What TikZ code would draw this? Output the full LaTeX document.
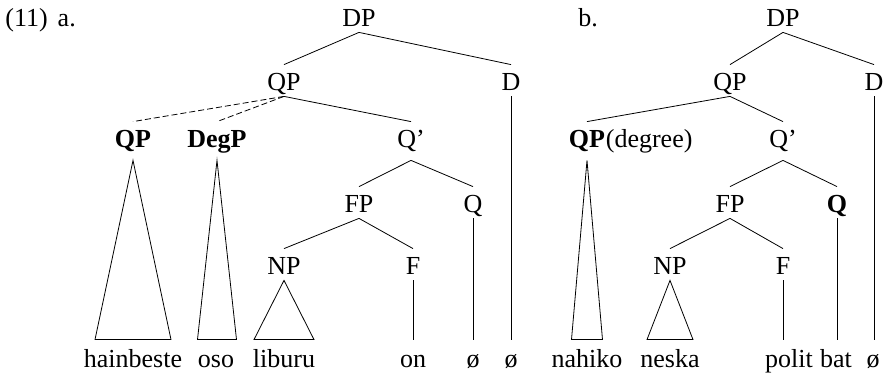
\documentclass[tikz,border=0pt]{standalone}
\usepackage{fontspec}
\setmainfont{Liberation Serif}
\usetikzlibrary{positioning,calc}

\begin{document}
\begin{tikzpicture}[x=1pt, y=-1pt, line width=0.8pt,
        every node/.style={font=\fontsize{26}{30}\selectfont},
        cat/.style={inner sep=0pt, anchor=base, text height=26pt, text depth=5pt},
        deepcat/.style={cat, text depth=12pt},
        word/.style={inner sep=0pt, anchor=base, text height=27pt, text depth=0pt},
        optional/.style={dash pattern=on 6pt off 3pt}]
        \useasboundingbox (0,0) rectangle (884,379);

        % Example labels
        \node (ex) [anchor=base west, inner sep=0pt] at (5,27) {(11)\hspace{10pt}a.};
        \node (exb) [anchor=base west, inner sep=0pt] at (578,27) {b.};

        % Tree a: categories
        \node (DPa) [cat] at (359,27) {DP};
        \node (QPa) [cat] at (284,91) {QP};
        \node (Da) [cat] at (511,91) {D};
        \node (QPsub) [deepcat] at (133,148) {\textbf{QP}};
        \node (DegP) [deepcat] at (217,148) {\textbf{DegP}};
        \node (Qbara) [deepcat] at (411,148) {Q'};
        \node (FPa) [cat] at (359,213) {FP};
        \node (Qa) [cat] at (473,213) {Q};
        \node (NPa) [cat] at (284,275) {NP};
        \node (Fa) [cat] at (413,275) {F};

        % Tree a: words
        \node (hainbeste) [word] at (133,367) {hainbeste};
        \node (oso) [word] at (216,367) {oso};
        \node (liburu) [word] at (284,367) {liburu};
        \node (on) [word] at (413,367) {on};
        \node (nullQa) [word] at (473,367) {ø};
        \node (nullDa) [word] at (511,367) {ø};

        % Tree b: categories
        \node (DPb) [cat] at (783,27) {DP};
        \node (QPb) [cat] at (730,91) {QP};
        \node (Db) [cat] at (874,91) {D};
        \node (QPdeg) [deepcat] at (587,148) {\textbf{QP}};
        \node (degree) [deepcat, anchor=base west] at (QPdeg.base east) {(degree)};
        \node (Qbarb) [deepcat] at (783,148) {Q'};
        \node (FPb) [cat] at (730,213) {FP};
        \node (Qb) [cat] at (837,213) {\textbf{Q}};
        \node (NPb) [cat] at (670,275) {NP};
        \node (Fb) [cat] at (783,275) {F};

        % Tree b: words
        \node (nahiko) [word] at (587,367) {nahiko};
        \node (neska) [word] at (670,367) {neska};
        \node (polit) [word] at (789,367) {polit};
        \node (bat) [word] at (836,367) {bat};
        \node (nullDb) [word] at (873,367) {ø};

        % Tree a: branches
        \draw (DPa.south) -- (QPa.north);
        \draw (DPa.south) -- (Da.north);
        \draw[optional] (QPa.south) -- (QPsub.north);
        \draw[optional] (QPa.south) -- (DegP.north);
        \draw (QPa.south) -- (Qbara.north);
        \draw (Qbara.south) -- (FPa.north);
        \draw (Qbara.south) -- (Qa.north);
        \draw (FPa.south) -- (NPa.north);
        \draw (FPa.south) -- (Fa.north);
        \draw (Da.south) -- (Da.south |- nullDa.north);
        \draw (Qa.south) -- (Qa.south |- nullQa.north);
        \draw (Fa.south) -- (Fa.south |- on.north);
        % Tree a: triangles
        \draw (QPsub.south) -- ($(QPsub.south |- hainbeste.north)+(-38,0)$)
            -- ($(QPsub.south |- hainbeste.north)+(38,0)$) -- cycle;
        \draw (DegP.south) -- ($(DegP.south |- oso.north)+(-19.5,0)$)
            -- ($(DegP.south |- oso.north)+(19.5,0)$) -- cycle;
        \draw (NPa.south) -- ($(NPa.south |- liburu.north)+(-30,0)$)
            -- ($(NPa.south |- liburu.north)+(30,0)$) -- cycle;

        % Tree b: branches
        \draw (DPb.south) -- (QPb.north);
        \draw (DPb.south) -- (Db.north);
        \draw (QPb.south) -- (QPdeg.north);
        \draw (QPb.south) -- (Qbarb.north);
        \draw (Qbarb.south) -- (FPb.north);
        \draw (Qbarb.south) -- (Qb.north);
        \draw (FPb.south) -- (NPb.north);
        \draw (FPb.south) -- (Fb.north);
        \draw (Db.south) -- (Db.south |- nullDb.north);
        \draw (Qb.south) -- (Qb.south |- bat.north);
        \draw (Fb.south) -- (Fb.south |- polit.north);
        % Tree b: triangles
        \draw (QPdeg.south) -- ($(QPdeg.south |- nahiko.north)+(-15.5,0)$)
            -- ($(QPdeg.south |- nahiko.north)+(15.5,0)$) -- cycle;
        \draw (NPb.south) -- ($(NPb.south |- neska.north)+(-23,0)$)
            -- ($(NPb.south |- neska.north)+(23,0)$) -- cycle;
    \end{tikzpicture}
\end{document}
